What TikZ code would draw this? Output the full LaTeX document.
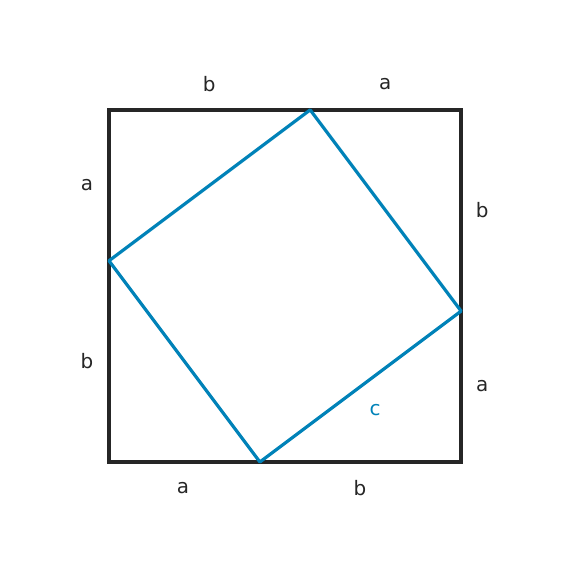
\documentclass[tikz,border=0pt]{standalone}
\usepackage{fontspec}
\setmainfont{DejaVu Sans}
\usetikzlibrary{positioning}
\definecolor{darkline}{HTML}{262626}
\definecolor{hypblue}{HTML}{0082B8}

\begin{document}
\begin{tikzpicture}
[x=50.3bp,y=50.3bp,
                    side/.style={font=\fontsize{20}{24}\selectfont,text=darkline},
                    hyp/.style={font=\fontsize{20}{24}\selectfont,text=hypblue}]
\useasboundingbox (-2.167,-2.247) rectangle (9.167,9.185);

\coordinate (sw) at (0,0);
\coordinate (se) at (7,0);
\coordinate (ne) at (7,7);
\coordinate (nw) at (0,7);

\coordinate (top) at (4,7);
\coordinate (left) at (0,4);
\coordinate (bottom) at (3,0);
\coordinate (right) at (7,3);

\draw[darkline, line width=3.4pt] (sw) -- (se) -- (ne) -- (nw) -- cycle;
\draw[hypblue, line width=3.2pt, line join=round] (top) -- (right) -- (bottom) -- (left) -- cycle;

\node[side] (tb) at (1.99,7.51) {b};
\node[side] (ta) at (5.49,7.51) {a};
\node[side] (la) at (-0.44,5.51) {a};
\node[side] (lb) at (-0.44,2.01) {b};
\node[side] (rb) at (7.42,5.01) {b};
\node[side] (ra) at (7.42,1.51) {a};
\node[side] (ba) at (1.47,-0.52) {a};
\node[side] (bb) at (4.99,-0.52) {b};
\node[hyp] (c) at (5.29,1.03) {c};

\end{tikzpicture}
\end{document}
